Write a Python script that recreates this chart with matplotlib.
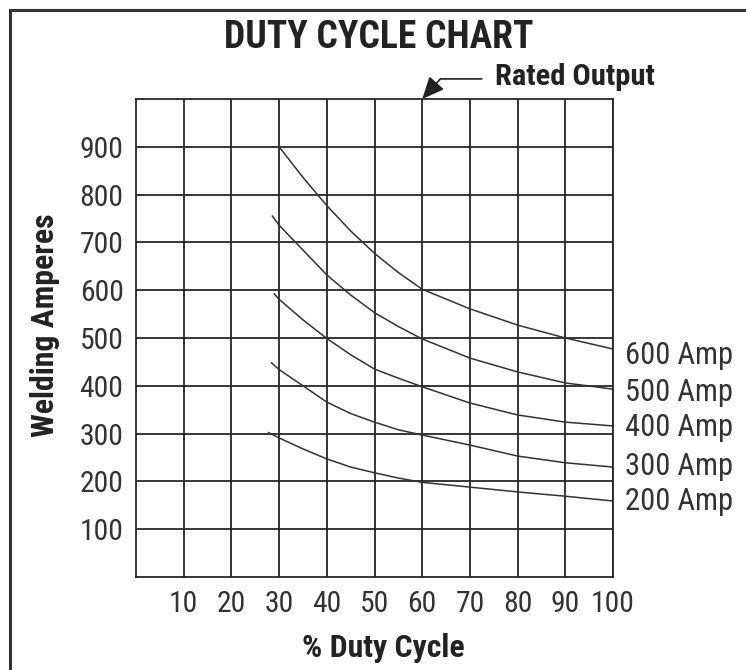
import matplotlib
matplotlib.use('Agg')
import matplotlib.pyplot as plt
from matplotlib import font_manager as fm
from matplotlib.lines import Line2D

# pick the narrowest sans family available
fonts = fm.fontManager.ttflist
names = {f.name for f in fonts}
stretch = 'normal'
family = 'DejaVu Sans'
for cand in ['Liberation Sans Narrow', 'Roboto Condensed', 'Open Sans Condensed',
             'Noto Sans Condensed', 'Arial Narrow']:
    if cand in names:
        family = cand
        break
else:
    if any(f.name == 'Noto Sans' and f.stretch in ('condensed', 'semi-condensed')
           for f in fonts):
        family, stretch = 'Noto Sans', 'condensed'
    elif any(f.name == 'DejaVu Sans' and f.stretch == 'condensed' for f in fonts):
        family, stretch = 'DejaVu Sans', 'condensed'
    elif 'Roboto' in names:
        family = 'Roboto'
plt.rcParams['font.family'] = [family, 'DejaVu Sans']
plt.rcParams['font.stretch'] = stretch

# duty cycle (%) against welding amperes for each machine rating
duty_600 = [30, 35, 40, 45, 50, 55, 60, 70, 80, 90, 100]
amp_600 = [900, 836, 777, 724, 677, 637, 602, 561, 527, 500, 477]
duty_500 = [28.6, 30, 35, 40, 45, 50, 55, 60, 70, 80, 90, 100]
amp_500 = [755, 736, 684, 632, 590, 553, 524, 498, 458, 429, 406, 393]
duty_400 = [29.0, 30, 35, 40, 45, 50, 55, 60, 70, 80, 90, 100]
amp_400 = [592, 581, 538, 499, 465, 435, 416, 398, 364, 339, 324, 316]
duty_300 = [28.4, 30, 35, 40, 45, 50, 55, 60, 70, 80, 90, 100]
amp_300 = [448, 434, 400, 366, 342, 324, 308, 297, 276, 253, 239, 230]
duty_200 = [27.8, 30, 35, 40, 45, 50, 55, 60, 70, 80, 90, 100]
amp_200 = [302, 291, 268, 247, 230, 218, 207, 198, 188, 178, 169, 159]

curves = [(duty_600, amp_600), (duty_500, amp_500), (duty_400, amp_400),
          (duty_300, amp_300), (duty_200, amp_200)]
curve_names = ['600 Amp', '500 Amp', '400 Amp', '300 Amp', '200 Amp']

x_ticks = [10, 20, 30, 40, 50, 60, 70, 80, 90, 100]
y_ticks = [100, 200, 300, 400, 500, 600, 700, 800, 900]

ink = '#262626'
txt = '#333333'

fig = plt.figure(figsize=(7.46, 6.70), dpi=100)
ax = fig.add_axes([136 / 746, 1 - 577 / 670, 477 / 746, 478 / 670])
renderer = fig.canvas.get_renderer()


def fitted_size(s, width_px, max_size, weight='normal'):
    # scale the font size so the string spans the given width
    t = fig.text(0, 0, s, fontsize=max_size, fontweight=weight)
    w = t.get_window_extent(renderer).width
    t.remove()
    return min(max_size, max_size * width_px / w)


tick_size = fitted_size('100', 44, 22)
amp_size = fitted_size('600 Amp', 110, 22)

ax.set_xlim(0, 100)
ax.set_ylim(0, 1000)
ax.set_xticks(x_ticks)
ax.set_yticks(y_ticks)
ax.tick_params(length=0, labelsize=tick_size, colors=txt)
ax.tick_params(axis='x', pad=9)
ax.tick_params(axis='y', pad=9)
ax.grid(True, color=ink, linewidth=1.3)
for s in ax.spines.values():
    s.set_color(ink)
    s.set_linewidth(1.3)

for xs, ys in curves:
    ax.plot(xs, ys, color='#333333', linewidth=1.1)

# curve names to the right of the chart
label_y = [464, 387, 312, 232, 157]
for name, ly in zip(curve_names, label_y):
    ax.text(102.5, ly, name, fontsize=amp_size, color=txt, va='center', ha='left',
            clip_on=False)

ax.set_ylabel('Welding Amperes', fontweight='bold', color='#222222',
              fontsize=fitted_size('Welding Amperes', 224, 24, 'bold'))
ax.yaxis.set_label_coords(-0.160, 0.527)
ax.set_xlabel('% Duty Cycle', fontweight='bold', color='#222222',
              fontsize=fitted_size('% Duty Cycle', 163, 24, 'bold'))
ax.xaxis.set_label_coords(0.518, -0.118)

# rated output marker at the top of the 60% line
ax.annotate('', xy=(60, 1000), xytext=(72.5, 1042),
            arrowprops=dict(arrowstyle='-|>,head_length=0.9,head_width=0.4',
                            connectionstyle='angle,angleA=0,angleB=48,rad=0',
                            color='#222222', lw=1.2, mutation_scale=15,
                            shrinkA=0, shrinkB=0),
            annotation_clip=False)
ax.text(75.3, 1046, 'Rated Output', fontweight='bold',
        fontsize=fitted_size('Rated Output', 160, 24, 'bold'),
        color='#222222', va='center', ha='left', clip_on=False)

fig.text(379 / 746, 1 - 37 / 670, 'DUTY CYCLE CHART', fontweight='bold',
         fontsize=fitted_size('DUTY CYCLE CHART', 308, 30, 'bold'),
         color='#222222', ha='center', va='center')

# frame lines along the top and left edge
fig.add_artist(Line2D([10 / 746, 1], [1 - 10 / 670, 1 - 10 / 670],
                      color='#333333', linewidth=2.2))
fig.add_artist(Line2D([10 / 746, 10 / 746], [0, 1 - 10 / 670],
                      color='#333333', linewidth=2.2))

fig.savefig('out.png', dpi=100)
